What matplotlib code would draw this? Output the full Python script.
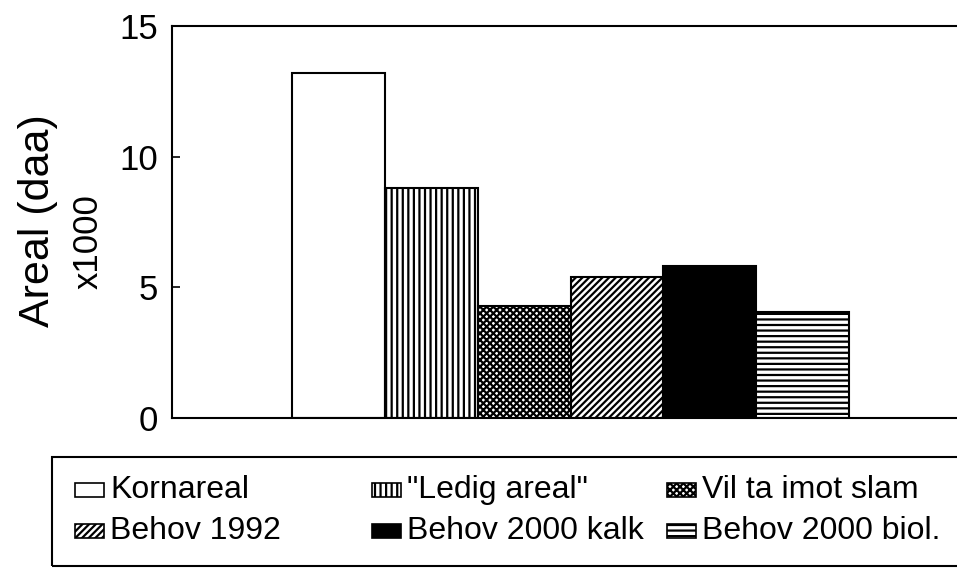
import matplotlib
matplotlib.use("Agg")
import matplotlib.pyplot as plt
from matplotlib.patches import Rectangle

plt.rcParams['font.family'] = ['Liberation Sans', 'DejaVu Sans']
plt.rcParams['hatch.linewidth'] = 1.6

categories = ["Kornareal", "\"Ledig areal\"", "Vil ta imot slam",
              "Behov 1992", "Behov 2000 kalk", "Behov 2000 biol."]
values = [13.2, 8.8, 4.3, 5.4, 5.82, 4.06]
yticks = [0, 5, 10, 15]

facecolors = ["white", "white", "white", "white", "black", "white"]
hatches = [None, "|||", "xxxxx", "/////", None, "---"]

W, H = 957, 569
fig = plt.figure(figsize=(W / 100, H / 100), dpi=100)


def fx(px):
    return px / W


def fy(py):
    return 1 - py / H


ax = fig.add_axes([fx(172), fy(418), fx(957) - fx(172) + 0.002, fy(26) - fy(418)])
positions = list(range(len(categories)))
bars = ax.bar(positions, values, width=1.0, color=facecolors,
              edgecolor="black", linewidth=1.5)
for b, h in zip(bars, hatches):
    if h:
        b.set_hatch(h)

ax.set_xlim(-1.8, 6.69)
ax.set_ylim(0, 15)
ax.set_yticks(yticks)
ax.set_yticklabels([str(t) for t in yticks], fontsize=25)
ax.set_xticks([])
ax.tick_params(axis='y', direction='in', length=6, width=1.2, pad=10)
ax.spines['right'].set_visible(False)
for s in ['left', 'top', 'bottom']:
    ax.spines[s].set_linewidth(1.5)

fig.text(fx(38), fy(221), "Areal (daa)", rotation=90, fontsize=31,
         ha='center', va='center')
fig.text(fx(88), fy(242), "x1000", rotation=90, fontsize=25,
         ha='center', va='center')

# Legend (frame + entries)
frame = Rectangle((fx(52), fy(566)), fx(960) - fx(52), fy(457) - fy(566),
                  transform=fig.transFigure, facecolor='none',
                  edgecolor='black', linewidth=1.5)
fig.add_artist(frame)

col_x = [75, 372, 667]
row_y = [490, 531]
for i, (cat, fc, h) in enumerate(zip(categories, facecolors, hatches)):
    r, c = divmod(i, 3)
    x0 = col_x[c]
    yc = row_y[r]
    patch = Rectangle((fx(x0), fy(yc + 7)), fx(29), 14 / H,
                      transform=fig.transFigure, facecolor=fc,
                      edgecolor='black', linewidth=1.2, hatch=h)
    fig.add_artist(patch)
    fig.text(fx(x0 + 35), fy(yc), cat, fontsize=23, ha='left', va='center')

fig.savefig("out.png", dpi=100)
